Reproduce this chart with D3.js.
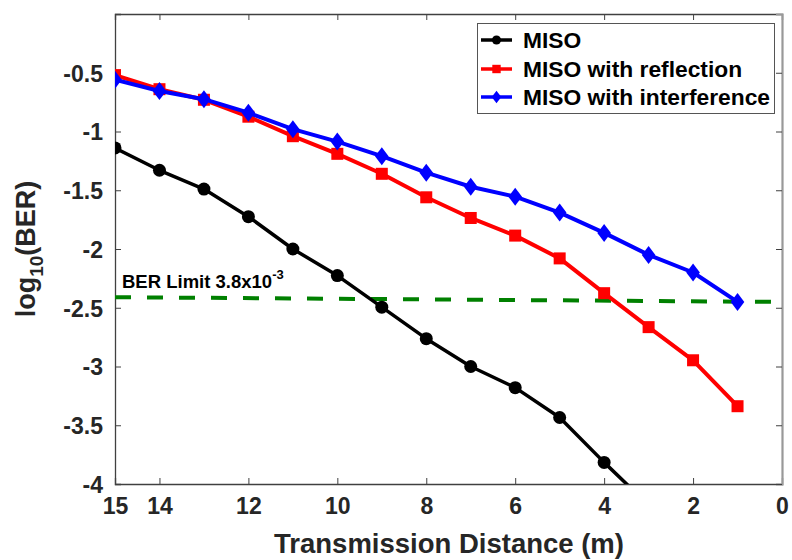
<!DOCTYPE html>
<html>
<head>
<meta charset="utf-8">
<script src="https://cdn.jsdelivr.net/npm/d3@7"></script>
<style>
  html, body { margin: 0; padding: 0; background: #fff; }
  svg { display: block; font-family: "Liberation Sans", Arial, sans-serif; }
</style>
</head>
<body>
<svg id="chart" width="792" height="560"></svg>
<script>
const distances = [15, 14, 13, 12, 11, 10, 9, 8, 7, 6, 5, 4, 3, 2, 1];
const misoDist = [15, 14, 13, 12, 11, 10, 9, 8, 7, 6, 5, 4, 3];
const miso = [-1.14, -1.33, -1.49, -1.725, -2.0, -2.226, -2.495, -2.763, -3.0, -3.18, -3.434, -3.816, -4.18];
const misoReflection = [-0.52, -0.64, -0.73, -0.874, -1.04, -1.19, -1.36, -1.56, -1.736, -1.886, -2.08, -2.376, -2.665, -2.947, -3.338];
const misoInterference = [-0.56, -0.655, -0.725, -0.84, -0.98, -1.086, -1.21, -1.35, -1.47, -1.555, -1.69, -1.863, -2.05, -2.2, -2.45];
const limitX = [15, 0.2];
const limitY = [-2.41, -2.45];
const xTicks = [15, 14, 12, 10, 8, 6, 4, 2, 0];
const yTicks = [-4, -3.5, -3, -2.5, -2, -1.5, -1, -0.5];
const seriesNames = ["MISO", "MISO with reflection", "MISO with interference"];
const seriesColors = ["#000000", "#ff0000", "#0000ff"];
const seriesMarkers = ["circle", "square", "diamond"];

const svg = d3.select("#chart");
const L = 115, R = 782, T = 14, B = 484;
const x = d3.scaleLinear().domain([15, 0]).range([L, R]);
const y = d3.scaleLinear().domain([-4, 0]).range([B, T]);

svg.append("defs").append("clipPath").attr("id", "clip")
  .append("rect").attr("x", L).attr("y", T).attr("width", R - L).attr("height", B - T);

const axisColor = "#404040";
const textColor = "#262626";

// axes
const xAxis = svg.append("g").attr("transform", `translate(0,${B})`)
  .call(d3.axisBottom(x).tickValues(xTicks).tickSize(-6).tickPadding(14).tickFormat(d => String(d)));
const xTop = svg.append("g").attr("transform", `translate(0,${T})`)
  .call(d3.axisTop(x).tickValues(xTicks).tickSize(-6).tickFormat(""));
const yAxis = svg.append("g").attr("transform", `translate(${L},0)`)
  .call(d3.axisLeft(y).tickValues(yTicks).tickSize(-6).tickPadding(12).tickFormat(d => String(d)));
const yRight = svg.append("g").attr("transform", `translate(${R},0)`)
  .call(d3.axisRight(y).tickValues(yTicks).tickSize(-6).tickFormat(""));

[xAxis, xTop, yAxis, yRight].forEach(g => {
  g.select(".domain").attr("stroke", axisColor).attr("stroke-width", 1.3);
  g.selectAll(".tick line").attr("stroke", axisColor).attr("stroke-width", 1);
  g.selectAll("text").attr("fill", textColor).attr("font-size", 23).attr("font-weight", "bold")
    .attr("font-family", "'Liberation Sans', Arial, sans-serif");
});
yRight.select(".domain").attr("stroke", "#999").attr("stroke-width", 2.2);
yAxis.selectAll("text").attr("dy", "0.36em");
xAxis.selectAll("text").attr("dy", "0.71em");

// limit line
svg.append("line")
  .attr("x1", x(limitX[0])).attr("y1", y(limitY[0]))
  .attr("x2", x(limitX[1])).attr("y2", y(limitY[1]))
  .attr("stroke", "#008000").attr("stroke-width", 4).attr("stroke-dasharray", "16,16");

const limitLabel = svg.append("text").attr("x", 122).attr("y", 288)
  .attr("font-size", 18.5).attr("font-weight", "bold").attr("fill", "#000");
limitLabel.append("tspan").text("BER Limit 3.8x10");
limitLabel.append("tspan").attr("dy", -9).attr("font-size", 13).text("-3");

// series
const plot = svg.append("g").attr("clip-path", "url(#clip)");
const data = [
  { xs: misoDist, ys: miso },
  { xs: distances, ys: misoReflection },
  { xs: distances, ys: misoInterference }
];

function drawMarker(g, type, cx, cy, color, s) {
  if (type === "circle") {
    g.append("circle").attr("cx", cx).attr("cy", cy).attr("r", 6.5 * s).attr("fill", color);
  } else if (type === "square") {
    const h = 6 * s;
    g.append("rect").attr("x", cx - h).attr("y", cy - h).attr("width", 2 * h).attr("height", 2 * h).attr("fill", color);
  } else {
    const w = 6.8 * s, hh = 9 * s;
    g.append("path").attr("d", `M${cx},${cy - hh}L${cx + w},${cy}L${cx},${cy + hh}L${cx - w},${cy}Z`).attr("fill", color);
  }
}

data.forEach((d, i) => {
  const pts = d.xs.map((v, j) => [v, d.ys[j]]);
  plot.append("path").datum(pts)
    .attr("fill", "none").attr("stroke", seriesColors[i]).attr("stroke-width", i === 0 ? 3.5 : 4)
    .attr("stroke-linejoin", "round")
    .attr("d", d3.line().x(p => x(p[0])).y(p => y(p[1])));
  const mg = plot.append("g");
  pts.forEach(p => drawMarker(mg, seriesMarkers[i], x(p[0]), y(p[1]), seriesColors[i], 1));
});

// legend
const lg = svg.append("g");
lg.append("rect").attr("x", 477.5).attr("y", 23.5).attr("width", 297).attr("height", 90)
  .attr("fill", "#fff").attr("stroke", "#555").attr("stroke-width", 1);
const rowY = [40, 69, 97];
seriesNames.forEach((n, i) => {
  lg.append("line").attr("x1", 481).attr("x2", 512).attr("y1", rowY[i]).attr("y2", rowY[i])
    .attr("stroke", seriesColors[i]).attr("stroke-width", 3.5);
  drawMarker(lg, seriesMarkers[i], 496.5, rowY[i], seriesColors[i], 0.7);
  lg.append("text").attr("x", 523).attr("y", rowY[i]).attr("dy", "0.36em")
    .attr("font-size", 22.8).attr("font-weight", "bold").attr("fill", "#000").text(n);
});

// axis titles
svg.append("text").attr("x", (L + R) / 2 + 0.5).attr("y", 553).attr("text-anchor", "middle")
  .attr("font-size", 27.5).attr("font-weight", "bold").attr("fill", textColor)
  .text("Transmission Distance (m)");

const yl = svg.append("text").attr("transform", `translate(35,${(T + B) / 2}) rotate(-90)`)
  .attr("text-anchor", "middle").attr("font-size", 27).attr("font-weight", "bold").attr("fill", textColor);
yl.append("tspan").text("log");
yl.append("tspan").attr("font-size", 19).attr("dy", 8).text("10");
yl.append("tspan").attr("dy", -8).text("(BER)");
</script>
</body>
</html>
